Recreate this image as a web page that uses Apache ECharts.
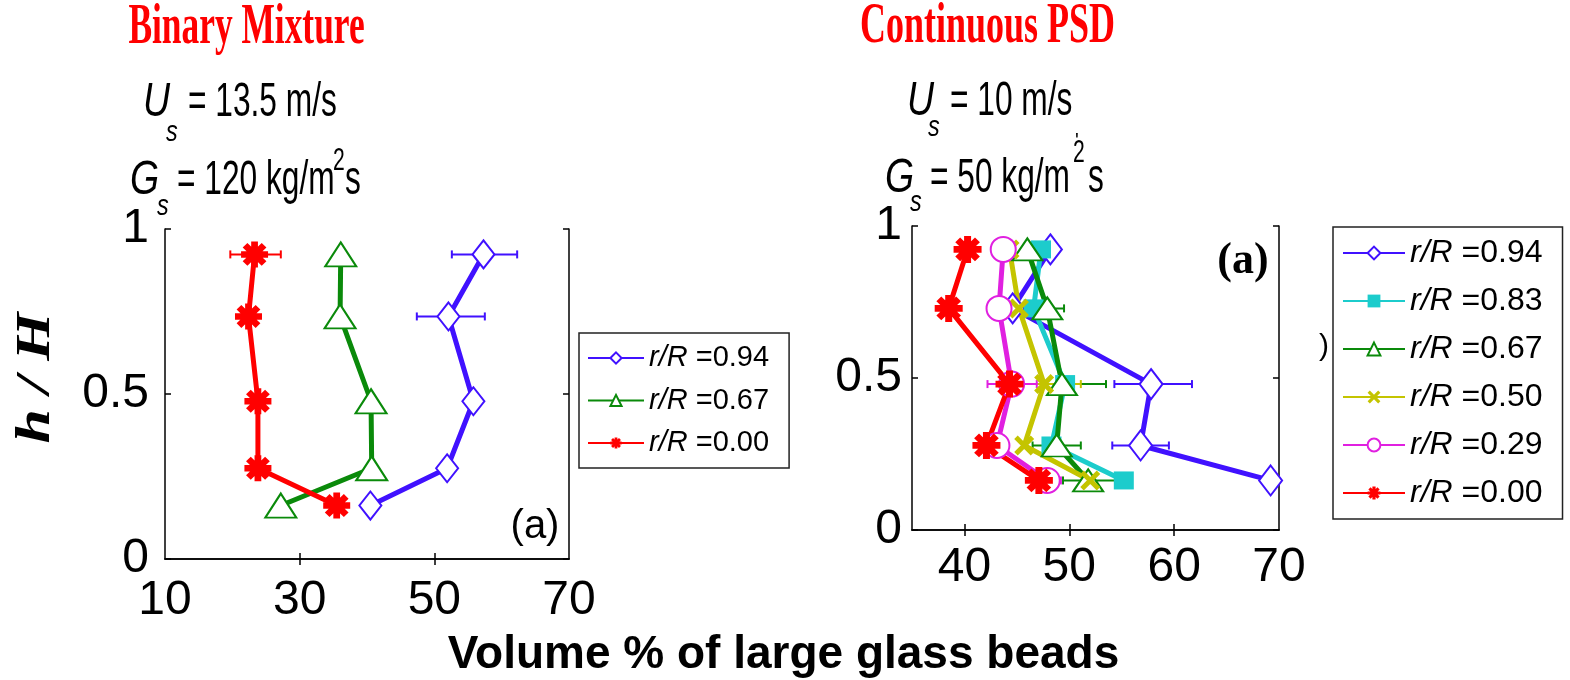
<!DOCTYPE html>
<html><head><meta charset="utf-8">
<script src="https://cdn.jsdelivr.net/npm/echarts@6/dist/echarts.min.js"></script>
<style>html,body{margin:0;padding:0;background:#fff}#c{width:1570px;height:680px}</style>
</head><body><div id="c"></div><script>
// ---------- data ----------
const hLeft = [0.923, 0.735, 0.478, 0.275, 0.162];
const leftBlue  = [57.3, 52.1, 55.8, 51.9, 40.5];   // r/R = 0.94
const leftGreen = [36.1, 36.0, 40.6, 40.7, 27.2];   // r/R = 0.67
const leftRed   = [23.3, 22.4, 23.8, 23.8, 35.5];   // r/R = 0.00
const leftBlueErr = [[52.6, 62.3, 0.923], [47.4, 57.5, 0.735]];
const leftRedErr  = [[19.7, 27.2, 0.923]];

const hRight = [0.923, 0.729, 0.480, 0.278, 0.163];
const rightBlue    = [48.2, 44.6, 57.8, 56.8, 69.2]; // 0.94
const rightCyan    = [47.3, 46.6, 49.6, 48.3, 55.2]; // 0.83
const rightGreen   = [46.0, 47.9, 49.3, 48.8, 51.8]; // 0.67
const rightYellow  = [44.3, 45.2, 47.6, 45.7, 52.0]; // 0.50
const rightMagenta = [43.7, 43.3, 44.5, 43.1, 47.9]; // 0.29
const rightRed     = [40.3, 38.5, 44.3, 42.1, 47.1]; // 0.00
const rightBlueErr    = [[54.3, 61.7, 0.480], [54.1, 59.5, 0.278]];
const rightGreenErr   = [[46.1, 49.5, 0.729], [45.1, 53.5, 0.480], [46.5, 51.1, 0.278], [49.4, 55.3, 0.163]];
const rightYellowErr  = [[44.1, 51.1, 0.480]];
const rightMagentaErr = [[42.2, 46.9, 0.480], [46.6, 49.2, 0.163]];

const leftXTicks = [10, 30, 50, 70];
const rightXTicks = [40, 50, 60, 70];
const yTicks = [0, 0.5, 1];
const leftLabels  = ['0.94', '0.67', '0.00'];
const rightLabels = ['0.94', '0.83', '0.67', '0.50', '0.29', '0.00'];

// ---------- styles ----------
const C = {blue:'#4011ff', cyan:'#1ccccc', green:'#0a8a0a', yellow:'#c4c400', magenta:'#e020e0', red:'#ff0000'};
const STAR = 'path://M7.5,0 L12.5,0 L12.5,20 L7.5,20 Z M0,7.5 L20,7.5 L20,12.5 L0,12.5 Z M4.7,1.2 L18.8,15.3 L15.3,18.8 L1.2,4.7 Z M15.3,1.2 L18.8,4.7 L4.7,18.8 L1.2,15.3 Z';
const XMARK = 'path://M0,3.5 L3.5,0 L20,16.5 L16.5,20 Z M16.5,0 L20,3.5 L3.5,20 L0,16.5 Z';
const FONT = 'Liberation Sans';

function lineS(name, xs, hs, color, symbol, size, ai, empty, lw) {
  return {
    type:'line', name, xAxisIndex:ai, yAxisIndex:ai,
    data: xs.map((v, i) => [v, hs[i]]),
    symbol, symbolSize:size, showSymbol:true, symbolKeepAspect:false,
    lineStyle:{color, width:lw},
    itemStyle:{color, borderColor:color, borderWidth: empty ? 3.5 : 0},
    emphasis:{disabled:true}
  };
}
function errS(data, color, ai) {
  return {
    type:'custom', xAxisIndex:ai, yAxisIndex:ai, data, silent:true,
    encode:{x:[0,1], y:2},
    renderItem:(p, api) => {
      const a = api.coord([api.value(0), api.value(2)]);
      const b = api.coord([api.value(1), api.value(2)]);
      const st = {stroke:color, lineWidth:2};
      return {type:'group', children:[
        {type:'line', shape:{x1:a[0], y1:a[1], x2:b[0], y2:b[1]}, style:st},
        {type:'line', shape:{x1:a[0], y1:a[1]-4, x2:a[0], y2:a[1]+4}, style:st},
        {type:'line', shape:{x1:b[0], y1:b[1]-4, x2:b[0], y2:b[1]+4}, style:st}
      ]};
    }
  };
}
function axisBase(gi) {
  return {
    gridIndex:gi, type:'value',
    axisLine:{show:true, lineStyle:{color:'#000', width:1.5}},
    axisTick:{show:true, inside:true, length:6, lineStyle:{color:'#000', width:1.5}},
    splitLine:{show:false},
    axisLabel:{show:false}
  };
}
function T(text, x, y, size, o) {
  o = o || {};
  const al = o.align || 'left';
  return {type:'text', x, y, scaleX:o.sx || 1, scaleY:o.sy || 1, rotation:o.rot || 0, z:100,
    style:{text, fontSize:size, fontFamily:o.ff || FONT, fontWeight:o.fw || 'normal',
      fontStyle:o.fs || 'normal', fill:o.fill || '#000',
      align:al, textAlign:al, verticalAlign:'middle', textVerticalAlign:'middle'}};
}

// ---------- axes ----------
const lbl = (size, margin) => ({show:true, fontSize:size, fontFamily:FONT, color:'#000', margin});
const xAxes = [
  Object.assign(axisBase(0), {position:'bottom', min:10, max:70,
    axisLabel:Object.assign(lbl(48, 18), {customValues:leftXTicks}),
    axisTick:Object.assign(axisBase(0).axisTick, {customValues:[30, 50]})}),
  Object.assign(axisBase(0), {position:'top', min:10, max:70,
    axisTick:Object.assign(axisBase(0).axisTick, {customValues:[30, 50]})}),
  Object.assign(axisBase(1), {position:'bottom', min:35, max:70,
    axisLabel:Object.assign(lbl(48, 14), {customValues:rightXTicks}),
    axisTick:Object.assign(axisBase(1).axisTick, {customValues:[40, 50, 60]})}),
  Object.assign(axisBase(1), {position:'top', min:35, max:70,
    axisTick:Object.assign(axisBase(1).axisTick, {customValues:[40, 50, 60]})})
];
const yAxes = [
  Object.assign(axisBase(0), {position:'left', min:0, max:1, interval:0.5,
    axisLabel:Object.assign(lbl(48, 16), {customValues:yTicks})}),
  Object.assign(axisBase(0), {position:'right', min:0, max:1, interval:0.5}),
  Object.assign(axisBase(1), {position:'left', min:0, max:1, interval:0.5,
    axisLabel:Object.assign(lbl(48, 10), {customValues:yTicks})}),
  Object.assign(axisBase(1), {position:'right', min:0, max:1, interval:0.5})
];

// ---------- series ----------
const leftNames = leftLabels.map(v => 'L' + v);
const rightNames = rightLabels.map(v => 'R' + v);
const series = [
  lineS(leftNames[0], leftBlue, hLeft, C.blue, 'emptyDiamond', [22, 28], 0, true, 5),
  lineS(leftNames[1], leftGreen, hLeft, C.green, 'emptyTriangle', [31, 24], 0, true, 5),
  lineS(leftNames[2], leftRed, hLeft, C.red, STAR, [27, 26], 0, false, 5),
  errS(leftBlueErr, C.blue, 0),
  errS(leftRedErr, C.red, 0),
  lineS(rightNames[0], rightBlue, hRight, C.blue, 'emptyDiamond', [23, 30], 2, true, 5),
  lineS(rightNames[1], rightCyan, hRight, C.cyan, 'rect', [20, 18], 2, false, 5),
  lineS(rightNames[2], rightGreen, hRight, C.green, 'emptyTriangle', [30, 22], 2, true, 5),
  lineS(rightNames[3], rightYellow, hRight, C.yellow, XMARK, [20, 20], 2, false, 5),
  lineS(rightNames[4], rightMagenta, hRight, C.magenta, 'emptyCircle', [25, 25], 2, true, 5),
  lineS(rightNames[5], rightRed, hRight, C.red, STAR, [28, 27], 2, false, 5),
  errS(rightBlueErr, C.blue, 2),
  errS(rightGreenErr, C.green, 2),
  errS(rightYellowErr, C.yellow, 2),
  errS(rightMagentaErr, C.magenta, 2)
];

const legendText = (size, lh) => ({fontSize:size, fontFamily:FONT, color:'#000', lineHeight:lh,
  rich:{i:{fontSize:size, fontFamily:FONT, fontStyle:'italic', color:'#000', lineHeight:lh}}});

// ---------- graphic texts ----------
const SUB = 48, SX = 0.66, ISX = 0.78;
const graphic = [
  T('Binary Mixture', 246.5, 28, 58, {ff:'Liberation Serif', fw:'bold', fill:'#ff0000', align:'center', sx:0.61}),
  T('Continuous PSD', 987.5, 27, 58, {ff:'Liberation Serif', fw:'bold', fill:'#ff0000', align:'center', sx:0.62}),
  // left parameters
  T('U', 143, 103, SUB, {fs:'italic', sx:ISX}),
  T('s', 166, 132.5, 30, {fs:'italic', sx:ISX}),
  T('= 13.5 m/s', 188, 103, SUB, {sx:SX}),
  T('G', 130, 180.5, SUB, {fs:'italic', sx:ISX}),
  T('s', 157, 206.5, 30, {fs:'italic', sx:ISX}),
  T('= 120 kg/m', 177, 180.5, SUB, {sx:SX}),
  T('2', 333, 161.5, 32, {sx:SX}),
  T('s', 345, 180.5, SUB, {sx:SX}),
  // right parameters
  T('U', 907, 101.5, SUB, {fs:'italic', sx:ISX}),
  T('s', 928, 128, 30, {fs:'italic', sx:ISX}),
  T('= 10 m/s', 950, 101.5, SUB, {sx:SX}),
  T('G', 885, 178.5, SUB, {fs:'italic', sx:ISX}),
  T('s', 910, 202.5, 30, {fs:'italic', sx:ISX}),
  T('= 50 kg/m', 930, 178.5, SUB, {sx:SX}),
  T('2', 1073, 153.5, 32, {sx:SX}),
  T("'", 1075, 141, 20, {}),
  T('s', 1088, 178.5, SUB, {sx:SX}),
  // axis titles
  T('h / H', 37, 378, 62, {ff:'Liberation Serif', fw:'bold', fs:'italic', align:'center', rot:Math.PI / 2, sy:0.78}),
  T('Volume % of large glass beads', 783.5, 655, 46, {fw:'bold', align:'center'}),
  // panel tags
  T('(a)', 535, 527, 40, {align:'center'}),
  T('(a)', 1243, 262, 44, {ff:'Liberation Serif', fw:'bold', align:'center'}),
  T(')', 1324, 347, 30, {align:'center'})
];

const chart = echarts.init(document.getElementById('c'), null, {renderer:'canvas'});
chart.setOption({
  animation:false,
  backgroundColor:'#fff',
  grid:[
    {left:165, top:229, width:404, height:330},
    {left:912, top:226, width:367, height:304}
  ],
  xAxis:xAxes,
  yAxis:yAxes,
  legend:[
    {data:leftNames, orient:'vertical', left:579, top:333, itemWidth:56, itemHeight:14, itemGap:8.5,
     padding:[8, 20, 8, 8], borderColor:'#222', borderWidth:1.5, backgroundColor:'#fff', selectedMode:false,
     textStyle:legendText(29, 34), formatter:n => '{i|r/R} =' + n.slice(1)},
    {data:rightNames, orient:'vertical', left:1333, top:227, itemWidth:62, itemHeight:16, itemGap:10,
     padding:[7, 20, 7, 9], borderColor:'#222', borderWidth:1.5, backgroundColor:'#fff', selectedMode:false,
     textStyle:legendText(32, 38), formatter:n => '{i|r/R} =' + n.slice(1)}
  ],
  series,
  graphic
});
</script></body></html>
